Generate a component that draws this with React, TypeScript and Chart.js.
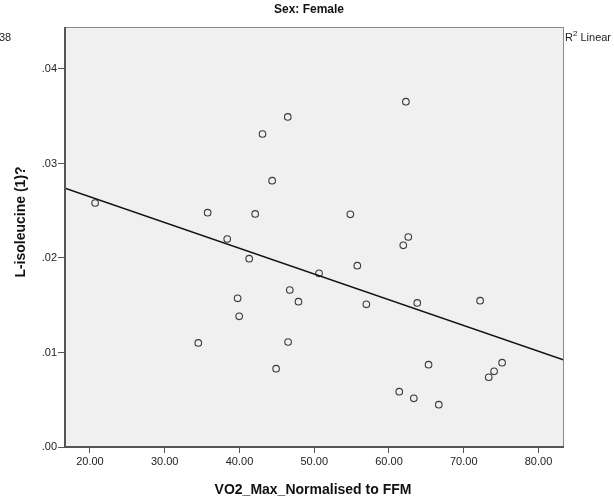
import React, { useEffect, useRef } from "react";
import { Chart, registerables } from "chart.js";

Chart.register(...registerables);

// VO2 max (normalised to fat-free mass) for each female participant
const vo2Max = [
  20.69, 35.74, 38.36, 42.1, 43.08, 44.37, 46.46, 41.3, 62.26, 54.83, 62.58,
  61.91, 50.64, 46.73, 47.89, 39.75, 39.96, 34.49, 46.5, 44.9, 55.76, 56.97,
  63.78, 72.19, 65.29, 75.13, 74.06, 73.34, 61.37, 63.32, 66.66,
];

// Matching L-isoleucine values
const isoleucine = [
  0.02582, 0.02479, 0.02201, 0.02466, 0.03312, 0.02818, 0.03492, 0.01993,
  0.03654, 0.02462, 0.02222, 0.02134, 0.01838, 0.01661, 0.01538, 0.01573,
  0.01383, 0.01101, 0.01111, 0.00829, 0.01919, 0.0151, 0.01524, 0.01548,
  0.00871, 0.00892, 0.00801, 0.00738, 0.00585, 0.00515, 0.00448,
];

// Linear fit line, given at the two ends of the x range
const fitX = [16.66, 83.41];
const fitY = [0.02738, 0.00921];

// Axis ranges and tick values
const xRange = [16.66, 83.41];
const yRange = [0, 0.04444];
const xTicks = [20, 30, 40, 50, 60, 70, 80];
const yTicks = [0, 0.01, 0.02, 0.03, 0.04];

const FONT = "'Liberation Sans', Arial, Helvetica, sans-serif";

const decorations = {
  id: "decorations",
  beforeDatasetsDraw(chart: any) {
    const { ctx, chartArea: a } = chart;
    ctx.save();
    ctx.fillStyle = "#f0f0f0";
    ctx.fillRect(a.left, a.top, a.right - a.left, a.bottom - a.top);
    ctx.restore();
  },
  afterDraw(chart: any) {
    const { ctx, chartArea: a } = chart;
    ctx.save();
    // frame
    ctx.strokeStyle = "#8a8a8a";
    ctx.lineWidth = 1;
    ctx.strokeRect(a.left + 0.5, a.top + 0.5, a.right - a.left - 1, a.bottom - a.top - 1);
    ctx.strokeStyle = "#555";
    ctx.lineWidth = 2;
    ctx.beginPath();
    ctx.moveTo(a.left, a.top);
    ctx.lineTo(a.left, a.bottom);
    ctx.lineTo(a.right, a.bottom);
    ctx.stroke();

    ctx.fillStyle = "#111";
    ctx.textBaseline = "middle";

    // title
    ctx.font = `bold 12px ${FONT}`;
    ctx.textAlign = "center";
    ctx.fillText("Sex: Female", 309, 10);

    // x axis title
    ctx.font = `bold 14px ${FONT}`;
    ctx.fillText("VO2_Max_Normalised to FFM", 313, 490);

    // y axis title
    ctx.save();
    ctx.translate(21, 222);
    ctx.rotate(-Math.PI / 2);
    ctx.font = `bold 14px ${FONT}`;
    ctx.fillText("L-isoleucine (1)?", 0, 0);
    ctx.restore();

    // fit annotations
    ctx.font = `11px ${FONT}`;
    ctx.textAlign = "left";
    ctx.fillStyle = "#222";
    ctx.fillText("38", -1, 38);
    let x = a.right + 1;
    ctx.fillText("R", x, 38);
    x += ctx.measureText("R").width;
    ctx.font = `8px ${FONT}`;
    ctx.fillText("2", x, 34);
    x += ctx.measureText("2").width;
    ctx.font = `11px ${FONT}`;
    ctx.fillText(" Linear", x, 38);
    ctx.restore();
  },
};

export default function App() {
  const ref = useRef<HTMLCanvasElement>(null);

  useEffect(() => {
    if (!ref.current) return;
    const points = vo2Max.map((v, i) => ({ x: v, y: isoleucine[i] }));
    const line = fitX.map((v, i) => ({ x: v, y: fitY[i] }));
    const chart = new Chart(ref.current, {
      type: "scatter",
      data: {
        datasets: [
          {
            type: "line",
            data: line,
            borderColor: "#111",
            borderWidth: 1.5,
            pointRadius: 0,
            fill: false,
          } as any,
          {
            data: points,
            pointStyle: "circle",
            pointRadius: 3.3,
            pointBorderWidth: 1.1,
            pointBorderColor: "#3a3a3a",
            pointBackgroundColor: "rgba(0,0,0,0)",
          } as any,
        ],
      },
      options: {
        animation: false,
        responsive: false,
        maintainAspectRatio: false,
        layout: { padding: { left: 0, top: 27, right: 50, bottom: 0 } },
        plugins: {
          legend: { display: false },
          tooltip: { enabled: false },
        },
        scales: {
          x: {
            type: "linear",
            min: xRange[0],
            max: xRange[1],
            afterBuildTicks: (s: any) => {
              s.ticks = xTicks.map((v) => ({ value: v }));
            },
            afterFit: (s: any) => {
              s.height = 54;
            },
            border: { display: false },
            grid: {
              drawOnChartArea: false,
              drawTicks: true,
              tickLength: 6,
              color: "#555",
            },
            ticks: {
              padding: 2,
              color: "#222",
              font: { family: FONT, size: 11 },
              maxRotation: 0,
              callback: (v: any) => Number(v).toFixed(2),
            },
          },
          y: {
            type: "linear",
            min: yRange[0],
            max: yRange[1],
            afterBuildTicks: (s: any) => {
              s.ticks = yTicks.map((v) => ({ value: v }));
            },
            afterFit: (s: any) => {
              s.width = 65;
            },
            border: { display: false },
            grid: {
              drawOnChartArea: false,
              drawTicks: true,
              tickLength: 7,
              color: "#555",
            },
            ticks: {
              padding: 1,
              color: "#222",
              font: { family: FONT, size: 11 },
              callback: (v: any) => Number(v).toFixed(2).replace(/^0/, ""),
            },
          },
        },
      },
      plugins: [decorations],
    });
    return () => chart.destroy();
  }, []);

  return (
    <div style={{ position: "fixed", left: 0, top: 0, width: 614, height: 501, background: "#fff" }}>
      <canvas ref={ref} width={614} height={501} style={{ width: 614, height: 501, display: "block" }} />
    </div>
  );
}
